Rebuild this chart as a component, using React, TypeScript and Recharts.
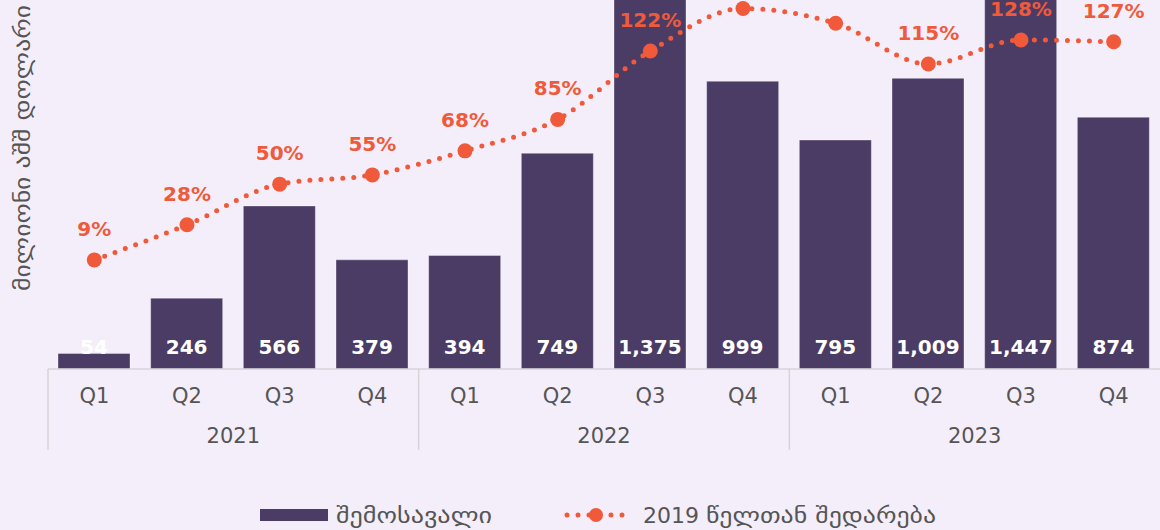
import { Bar, ComposedChart, LabelList, Line, XAxis, YAxis } from "recharts";

const quarters = ["Q1", "Q2", "Q3", "Q4", "Q1", "Q2", "Q3", "Q4", "Q1", "Q2", "Q3", "Q4"];
const years = ["2021", "2022", "2023"];
const revenue = [54, 246, 566, 379, 394, 749, 1375, 999, 795, 1009, 1447, 874];
const vs2019 = [9, 28, 50, 55, 68, 85, 122, 145, 137, 115, 128, 127];

const data = quarters.map((q, i) => ({
  key: `${years[Math.floor(i / 4)]}-${q}`,
  q,
  year: years[Math.floor(i / 4)],
  revenue: revenue[i],
  pct: vs2019[i],
}));

const BG = "#f4eefa";
const BAR = "#4b3c66";
const ORANGE = "#f05a3a";
const GRAY = "#555555";
const FONT = "'DejaVu Sans', sans-serif";

function QuarterTick(props: any) {
  const { x, payload, index } = props;
  const half = payload?.offset ?? 46.3;
  const d = data[index];
  const base = 369;
  return (
    <g>
      <text x={x} y={base + 34} textAnchor="middle" fill={GRAY} fontSize={21} fontFamily={FONT}>
        {d.q}
      </text>
      {index % 4 === 0 && (
        <line x1={x - half} x2={x - half} y1={base} y2={base + 81} stroke="#d6d3da" strokeWidth={1.5} />
      )}
      {index % 4 === 1 && (
        <text x={x + half} y={base + 74} textAnchor="middle" fill={GRAY} fontSize={21} fontFamily={FONT}>
          {d.year}
        </text>
      )}
    </g>
  );
}

function BarValue(props: any) {
  const { x, y, width, height, value } = props;
  return (
    <text
      x={x + width / 2}
      y={y + height - 15}
      textAnchor="middle"
      fill="#ffffff"
      fontSize={20}
      fontWeight="bold"
      fontFamily={FONT}
    >
      {Number(value).toLocaleString("en-US")}
    </text>
  );
}

function PctValue(props: any) {
  const { x, y, value } = props;
  return (
    <text x={x} y={y - 24} textAnchor="middle" fill={ORANGE} fontSize={20} fontWeight="bold" fontFamily={FONT}>
      {`${value}%`}
    </text>
  );
}

function AxisTitle() {
  return (
    <text
      x={30}
      y={148}
      transform="rotate(-90 30 148)"
      textAnchor="middle"
      fill={GRAY}
      fontSize={22}
      fontFamily={FONT}
      textLength={286}
      lengthAdjust="spacingAndGlyphs"
    >
      მილიონი აშშ დოლარი
    </text>
  );
}

function LegendRow() {
  return (
    <div style={{ position: "absolute", left: 0, top: 500, width: 1160, height: 30 }}>
      <svg width={1160} height={30} style={{ position: "absolute", left: 0, top: 0 }}>
        <rect x={260} y={9} width={68} height={12} fill={BAR} />
        <text
          x={336}
          y={23}
          fill={GRAY}
          fontSize={22}
          fontFamily={FONT}
          textLength={156}
          lengthAdjust="spacingAndGlyphs"
        >
          შემოსავალი
        </text>
        <line
          x1={567}
          x2={625}
          y1={15}
          y2={15}
          stroke={ORANGE}
          strokeWidth={5}
          strokeLinecap="round"
          strokeDasharray="0 11"
        />
        <circle cx={596} cy={15} r={7} fill={ORANGE} />
        <text x={643} y={23} fill={GRAY} fontSize={22} fontFamily={FONT}>
          2019{" "}
          <tspan textLength={230} lengthAdjust="spacingAndGlyphs">
            წელთან შედარება
          </tspan>
        </text>
      </svg>
    </div>
  );
}

export default function App() {
  return (
    <div style={{ position: "fixed", left: 0, top: 0, width: 1160, height: 530, background: BG }}>
      <ComposedChart
        width={1160}
        height={530}
        data={data}
        margin={{ top: 0, right: 0, bottom: 0, left: 0 }}
        barSize={72}
      >
        <XAxis
          dataKey="key"
          height={161}
          axisLine={{ stroke: "#d6d3da", strokeWidth: 1.5 }}
          tickLine={false}
          interval={0}
          tick={<QuarterTick />}
        />
        <YAxis
          yAxisId="left"
          width={48}
          domain={[0, 1281]}
          allowDataOverflow
          axisLine={false}
          tickLine={false}
          tick={false}
          label={<AxisTitle />}
        />
        <YAxis yAxisId="right" orientation="right" domain={[-50, 149.6]} allowDataOverflow hide />
        <Bar
          yAxisId="left"
          dataKey="revenue"
          fill={BAR}
          stroke="#ffffff"
          strokeOpacity={0.35}
          strokeWidth={1}
          isAnimationActive={false}
        >
          <LabelList dataKey="revenue" content={<BarValue />} />
        </Bar>
        <Line
          yAxisId="right"
          type="monotone"
          dataKey="pct"
          stroke={ORANGE}
          strokeWidth={5}
          strokeLinecap="round"
          strokeDasharray="0 11"
          dot={{ r: 7.5, fill: ORANGE, stroke: "none", strokeDasharray: "" }}
          activeDot={false}
          isAnimationActive={false}
        >
          <LabelList dataKey="pct" content={<PctValue />} />
        </Line>
      </ComposedChart>
      <LegendRow />
    </div>
  );
}
